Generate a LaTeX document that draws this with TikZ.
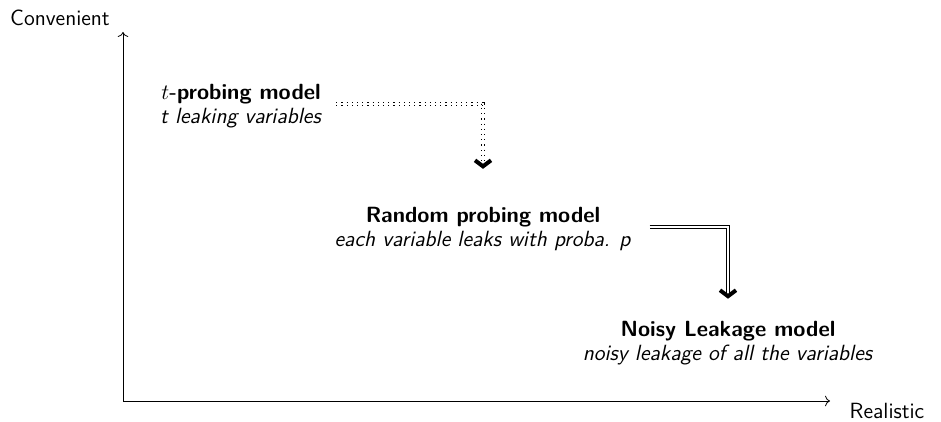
\documentclass[tikz,border=0pt]{standalone}
\usetikzlibrary{arrows.meta,positioning}
\begin{document}
\begin{tikzpicture}[x=0.5pt,y=0.5pt,
  every node/.style={font=\sffamily\fontsize{11}{12}\selectfont},
  model/.style={align=center,inner sep=3pt},
  axis/.style={->},
  flow/.style={-{Straight Barb[length=3pt,width=8pt,line width=2pt]},line width=0.6pt,double distance=1.2pt}]
\useasboundingbox (0,0) rectangle (941,422);
\coordinate (O) at (123,21);
\coordinate (ytop) at (123,390);
\coordinate (xend) at (830,21);
\draw[axis] (O) -- (ytop);
\draw[axis] (O) -- (xend);
\node (conv) at (60,404) {Convenient};
\node (real) at (887,11) {Realistic};

\node[model] (tprob) at (241,316) {\textbf{$t$-probing model}\\\textit{t leaking variables}};
\node[model] (random) at (483,193) {\textbf{Random probing model}\\\textit{each variable leaks with proba. p}};
\node[model] (noisy) at (728,79) {\textbf{Noisy Leakage model}\\\textit{noisy leakage of all the variables}};

\draw[flow,dotted,shorten <=4pt,shorten >=16pt] ([yshift=1pt]tprob.east) -| (random.north);
\draw[flow,shorten <=6pt,shorten >=8pt] ([yshift=1pt]random.east) -| (noisy.north);
\end{tikzpicture}
\end{document}
